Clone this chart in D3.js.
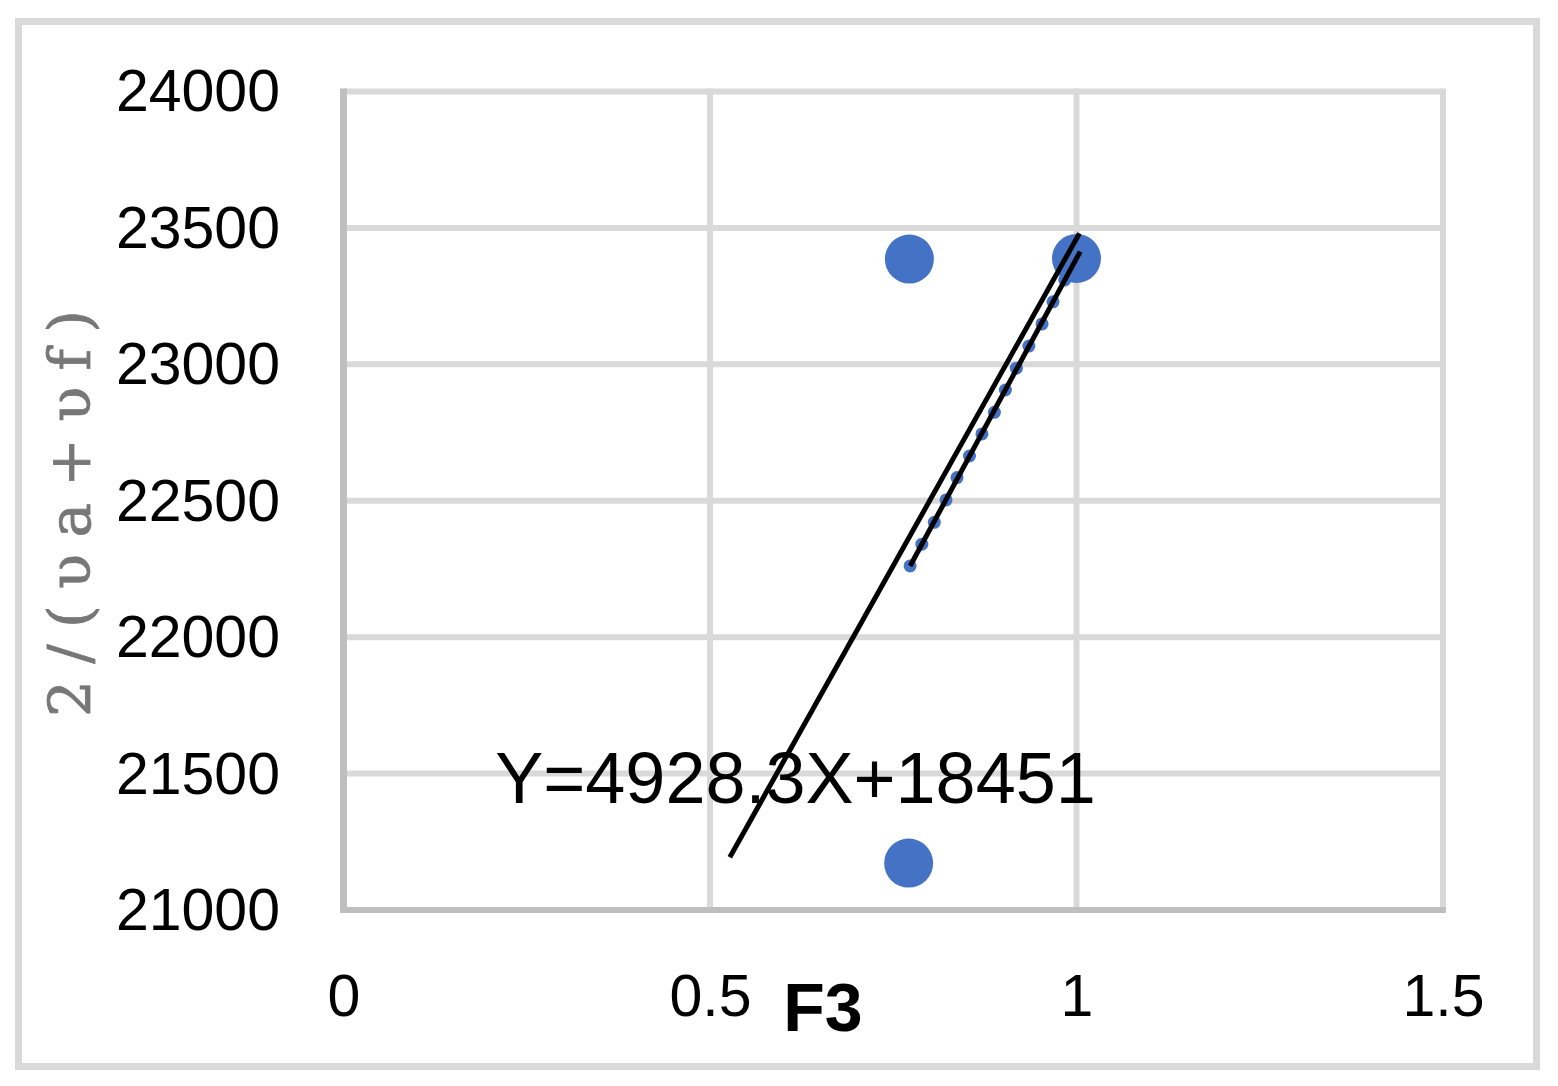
<!DOCTYPE html>
<html>
<head>
<meta charset="utf-8">
<script src="https://cdn.jsdelivr.net/npm/d3@7"></script>
<style>
  body { margin: 0; background: #fff; }
  svg { display: block; }
</style>
</head>
<body>
<div id="chart"></div>
<script>
// Large markers (three measured points)
const bigX = [0.772, 1.0, 0.771];
const bigY = [23386, 23388, 21172];

// Small markers along the fitted trend
const smallX = [0.773, 0.789, 0.806, 0.822, 0.837, 0.854, 0.871, 0.888, 0.903, 0.918, 0.935, 0.953, 0.968, 0.984, 1.0];
const smallY = [22261, 22341, 22421, 22503, 22585, 22664, 22745, 22824, 22906, 22986, 23067, 23148, 23229, 23309, 23389];

// Two straight black lines (end points)
const line1X = [0.527, 1.004];
const line1Y = [21193, 23480];
const line2X = [0.773, 1.005];
const line2Y = [22261, 23413];

const xTicks = [0, 0.5, 1, 1.5];
const yTicks = [21000, 21500, 22000, 22500, 23000, 23500, 24000];

const equation = "Y=4928.3X+18451";
const eqPos = [0.207, 21391];

const W = 1558, H = 1086;
const plot = {left: 343.5, right: 1443, top: 91.5, bottom: 910};

const svg = d3.select("#chart")
    .append("svg")
    .attr("width", W)
    .attr("height", H);

svg.append("rect")
    .attr("width", W).attr("height", H)
    .attr("fill", "#fff");

// outer frame
svg.append("rect")
    .attr("x", 18.5).attr("y", 21.5)
    .attr("width", 1518).attr("height", 1045)
    .attr("fill", "none")
    .attr("stroke", "#d9d9d9")
    .attr("stroke-width", 7);

const x = d3.scaleLinear().domain([0, 1.5]).range([plot.left, plot.right]);
const y = d3.scaleLinear().domain([21000, 24000]).range([plot.bottom, plot.top]);

// Gridlines
svg.append("g").selectAll("line")
    .data(yTicks.filter(d => d !== 21000))
    .enter().append("line")
    .attr("x1", plot.left).attr("x2", plot.right)
    .attr("y1", d => y(d)).attr("y2", d => y(d))
    .attr("stroke", "#d9d9d9").attr("stroke-width", 6);

svg.append("g").selectAll("line")
    .data(xTicks.filter(d => d !== 0))
    .enter().append("line")
    .attr("x1", d => x(d)).attr("x2", d => x(d))
    .attr("y1", plot.top - 3).attr("y2", plot.bottom)
    .attr("stroke", "#d9d9d9").attr("stroke-width", 6);

// Axis lines
svg.append("line")
    .attr("x1", plot.left).attr("x2", plot.left)
    .attr("y1", plot.top - 3).attr("y2", plot.bottom + 3)
    .attr("stroke", "#bfbfbf").attr("stroke-width", 7);
svg.append("line")
    .attr("x1", plot.left).attr("x2", plot.right + 3)
    .attr("y1", plot.bottom).attr("y2", plot.bottom)
    .attr("stroke", "#bfbfbf").attr("stroke-width", 6);

// Tick labels via axes
const yAxis = svg.append("g")
    .attr("transform", `translate(${plot.left},0)`)
    .call(d3.axisLeft(y).tickValues(yTicks).tickSize(0).tickPadding(63.5).tickFormat(d3.format("d")));
yAxis.select(".domain").remove();
yAxis.selectAll("text")
    .attr("font-family", "'Liberation Sans', Arial, sans-serif")
    .attr("font-size", 59)
    .attr("fill", "#000")
    .attr("dy", "0.33em");

const xAxis = svg.append("g")
    .attr("transform", `translate(0,${plot.bottom})`)
    .call(d3.axisBottom(x).tickValues(xTicks).tickSize(0).tickPadding(0).tickFormat(d => String(d)));
xAxis.select(".domain").remove();
xAxis.selectAll("text")
    .attr("font-family", "'Liberation Sans', Arial, sans-serif")
    .attr("font-size", 59)
    .attr("fill", "#000")
    .attr("y", 106)
    .attr("dy", 0);

// Points
svg.append("g").selectAll("circle")
    .data(smallX)
    .enter().append("circle")
    .attr("cx", d => x(d))
    .attr("cy", (d, i) => y(smallY[i]))
    .attr("r", 6.5)
    .attr("fill", "#4472c4");

svg.append("g").selectAll("circle")
    .data(bigX)
    .enter().append("circle")
    .attr("cx", d => x(d))
    .attr("cy", (d, i) => y(bigY[i]))
    .attr("r", 24.5)
    .attr("fill", "#4472c4");

// Lines
const line = d3.line().x(d => x(d[0])).y(d => y(d[1]));
[[line1X, line1Y], [line2X, line2Y]].forEach(([xs, ys]) => {
    svg.append("path")
        .attr("d", line(xs.map((v, i) => [v, ys[i]])))
        .attr("fill", "none")
        .attr("stroke", "#000")
        .attr("stroke-width", 5);
});

// Equation
svg.append("text")
    .attr("x", x(eqPos[0]))
    .attr("y", y(eqPos[1]))
    .attr("font-family", "'Liberation Sans', Arial, sans-serif")
    .attr("font-size", 72)
    .attr("fill", "#000")
    .text(equation);

// Axis titles
svg.append("text")
    .attr("x", 823)
    .attr("y", 1031)
    .attr("text-anchor", "middle")
    .attr("font-family", "'Liberation Sans', Arial, sans-serif")
    .attr("font-weight", "bold")
    .attr("font-size", 68)
    .attr("fill", "#000")
    .text("F3");

svg.append("text")
    .attr("transform", "translate(90,513.5) rotate(-90)")
    .attr("text-anchor", "middle")
    .attr("font-family", "'DejaVu Serif', 'Liberation Serif', serif")
    .attr("font-size", 58)
    .attr("fill", "#777")
    .attr("stroke", "#777")
    .attr("stroke-width", 0.8)
    .attr("textLength", 407)
    .attr("lengthAdjust", "spacing")
    .text("2/(υa+υf)");
</script>
</body>
</html>
